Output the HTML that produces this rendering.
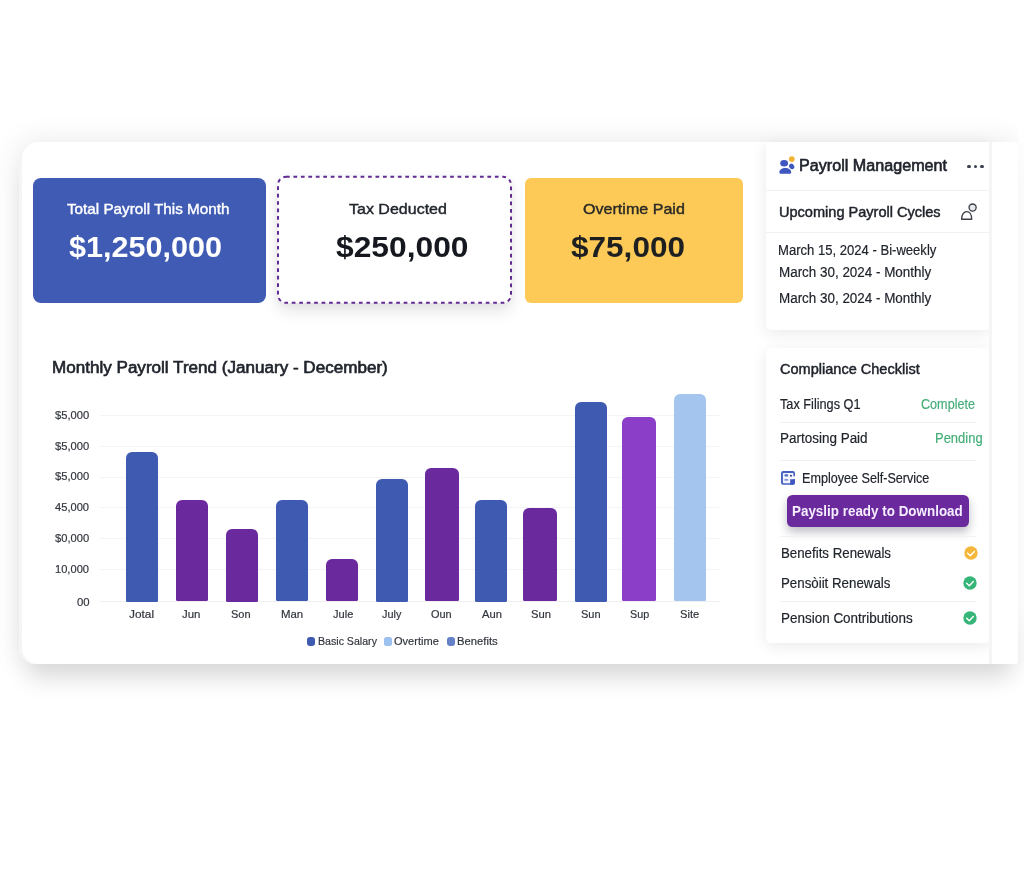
<!DOCTYPE html>
<html lang="en">
<head>
<meta charset="utf-8">
<title>Payroll Management</title>
<style>
*{box-sizing:border-box;margin:0;padding:0}
html,body{width:1024px;height:876px;background:#fff;overflow:hidden}
body{font-family:"Liberation Sans",Arial,sans-serif;color:#20242c;position:relative}
.abs{position:absolute}
#main{left:18.700px;top:142px;width:999.300px;height:521.700px;background:#fff;border-radius:16px 3px 3px 16px;
  box-shadow:0 23px 25px -8px rgba(0,0,0,.11),0 0 30px rgba(0,0,0,.095),inset 3px 0 0 #f5f5f8}
#s1{left:33px;top:178px;width:232.500px;height:124.600px;background:#3f5bb4;border-radius:8px}
#s2{left:278px;top:177px;width:233px;height:126px;background:#fff;border-radius:8px;box-shadow:0 8px 16px rgba(0,0,0,.11),0 0 8px rgba(0,0,0,.05)}
#s3{left:525.400px;top:178px;width:217.800px;height:125.200px;background:#fdc957;border-radius:6px}
.panel{background:#fff;border-radius:5px;box-shadow:0 3px 16px rgba(0,0,0,.085)}
#p1{left:766px;top:142px;width:223.500px;height:187.500px;border-radius:0 0 5px 5px}
#p2{left:766px;top:347.500px;width:223.500px;height:295px}
.hr{position:absolute;height:1px;background:#f1f1f4}
.t{position:absolute;white-space:nowrap;line-height:0;transform-origin:0 0}
.b{font-weight:700}
.m{-webkit-text-stroke:.45px currentColor}
.m2{-webkit-text-stroke:.6px currentColor}
.r{-webkit-text-stroke:.18px currentColor}
.rp{-webkit-text-stroke:.4px currentColor}
.bar{position:absolute;border-radius:6px 6px 1.500px 1.500px}
.blue{background:#3f5bb1}
.pur{background:#6a2a9d}
.pur2{background:#8b3fc9}
.lb{background:#a3c5ee}
.grid{position:absolute;left:100px;width:620px;height:1px;background:#f4f4f6}
.lgd{position:absolute;border-radius:3px;width:8px;height:9px;top:636.500px}
</style>
</head>
<body>
<div id="main" class="abs"></div>
<div class="abs" style="left:1018px;top:120px;width:6px;height:543px;background:linear-gradient(to bottom,rgba(255,255,255,.65) 90%,rgba(255,255,255,0))"></div>

<div id="s1" class="abs"></div>
<div id="s2" class="abs"></div>
<svg class="abs" style="left:274px;top:173px" width="242" height="134" viewBox="0 0 242 134"><rect x="4" y="3.800" width="233" height="126" rx="8" fill="none" stroke="#622a93" stroke-width="2" stroke-dasharray="3.700 3.760"/></svg>
<div id="s3" class="abs"></div>

<div class="grid" style="top:415px"></div>
<div class="grid" style="top:445.500px"></div>
<div class="grid" style="top:476.500px"></div>
<div class="grid" style="top:507px"></div>
<div class="grid" style="top:537.500px"></div>
<div class="grid" style="top:569px"></div>
<div class="grid" style="top:601px;background:#efeff2"></div>

<div class="bar blue" style="left:126px;width:32px;top:452px;height:149.500px"></div>
<div class="bar pur"  style="left:176.300px;width:32px;top:500.400px;height:101px"></div>
<div class="bar pur"  style="left:226px;width:32px;top:529px;height:72.500px"></div>
<div class="bar blue" style="left:276.200px;width:32px;top:500.200px;height:101px"></div>
<div class="bar pur"  style="left:326.300px;width:32px;top:558.800px;height:42.700px"></div>
<div class="bar blue" style="left:376px;width:32px;top:478.600px;height:123px"></div>
<div class="bar pur"  style="left:425.200px;width:33.600px;top:467.800px;height:133.700px"></div>
<div class="bar blue" style="left:475.200px;width:32.300px;top:499.600px;height:102px"></div>
<div class="bar pur"  style="left:523.400px;width:34px;top:507.900px;height:93.600px"></div>
<div class="bar blue" style="left:574.500px;width:32px;top:402px;height:199.500px"></div>
<div class="bar pur2" style="left:622.200px;width:33.800px;top:416.800px;height:184.700px"></div>
<div class="bar lb"   style="left:673.800px;width:32px;top:394.100px;height:207.400px"></div>

<div class="lgd" style="left:307.300px;background:#3f5bb1"></div>
<div class="lgd" style="left:383.800px;background:#9dc1ee;border-radius:2.500px"></div>
<div class="lgd" style="left:447.300px;background:#6480c8"></div>

<div id="p1" class="abs panel"></div>
<div id="p2" class="abs panel"></div>

<div class="abs" style="left:989.400px;top:142px;width:2.400px;height:521.500px;background:#f5f5f6"></div>
<div class="abs" style="left:991.800px;top:142px;width:26.200px;height:521.600px;background:#fff;border-radius:0 3px 3px 0"></div>
<!-- panel 1 -->
<svg class="abs" style="left:778px;top:155px" width="18" height="20" viewBox="0 0 18 20">
  <ellipse cx="6.150" cy="8.350" rx="3.900" ry="3.250" fill="#3f55bf"/>
  <path d="M1.400 17.300c0-2.700 2.400-4.300 5.900-4.300s5.900 1.600 5.900 4.300c0 1-.6 1.500-1.500 1.500h-8.800c-.9 0-1.500-.5-1.500-1.500z" fill="#3f55bf"/>
  <ellipse cx="13.700" cy="11.450" rx="2.350" ry="2.900" transform="rotate(-38 13.700 11.450)" fill="#3f55bf"/>
  <circle cx="13.800" cy="4.100" r="2.900" fill="#f2b335"/>
</svg>
<div class="abs" style="left:967.100px;top:164.600px;width:3.600px;height:3.600px;border-radius:50%;background:#3a3f4c"></div>
<div class="abs" style="left:973.600px;top:164.600px;width:3.600px;height:3.600px;border-radius:50%;background:#3a3f4c"></div>
<div class="abs" style="left:980.100px;top:164.600px;width:3.600px;height:3.600px;border-radius:50%;background:#3a3f4c"></div>
<div class="hr" style="left:766px;width:223px;top:190px"></div>
<svg class="abs" style="left:959px;top:202px" width="20" height="20" viewBox="0 0 20 20" fill="none" stroke="#3c3f47" stroke-width="1.350">
  <circle cx="13.600" cy="5.500" r="3.550" fill="#e6e8ec"/>
  <path d="M2.600 17.250c0-4.600 2.300-7.600 5.200-7.600 2.800 0 4.900 3 4.900 7.600z" fill="#fff" stroke-linejoin="round"/>
</svg>
<div class="hr" style="left:766px;width:223px;top:232px"></div>

<!-- panel 2 -->
<div class="hr" style="left:780px;width:196px;top:421.500px"></div>
<div class="hr" style="left:780px;width:196px;top:459.500px"></div>
<svg class="abs" style="left:780.600px;top:471px" width="14" height="14" viewBox="0 0 14 14">
  <rect x="0" y="0" width="14" height="13.750" rx="2.200" fill="#4560bf"/>
  <rect x="1.900" y="2" width="10.500" height="10.200" rx=".8" fill="#f1f3ff"/>
  <rect x="11.500" y="5.300" width="2.500" height="2.900" fill="#fafaff"/>
  <rect x="3.400" y="3.200" width="3.800" height="2.400" rx="1" fill="#5269c6"/>
  <circle cx="9.950" cy="4.650" r="1" fill="#2c3a80"/>
  <rect x="3.400" y="8.200" width="3.800" height="1.400" rx=".4" fill="#5a70c6"/>
  <path d="M9.200 8.200h4.800v3.350a2.200 2.200 0 0 1-2.200 2.200h-2.600z" fill="#3f58c0"/>
</svg>
<div class="abs" style="left:786.700px;top:495px;width:182.300px;height:31.700px;background:#6a2a9e;border-radius:5.500px;box-shadow:0 5px 10px rgba(20,10,40,.27)"></div>
<div class="hr" style="left:780px;width:196px;top:536px;background:#f2f2f4"></div>
<div class="hr" style="left:780px;width:196px;top:601px"></div>

<svg class="abs" style="left:963.550px;top:546.050px" width="14" height="14" viewBox="0 0 14 14"><circle cx="7" cy="7" r="6.700" fill="#f4b73a"/><path d="M3.6 7.3l2.7 2.4 4-4.2" fill="none" stroke="#fff" stroke-width="1.450" stroke-linecap="round" stroke-linejoin="round"/></svg>
<svg class="abs" style="left:963.400px;top:575.900px" width="14" height="14" viewBox="0 0 14 14"><circle cx="7" cy="7" r="6.700" fill="#35b577"/><path d="M3.6 7.3l2.7 2.4 4-4.2" fill="none" stroke="#fff" stroke-width="1.450" stroke-linecap="round" stroke-linejoin="round"/></svg>
<svg class="abs" style="left:963.400px;top:610.850px" width="14" height="14" viewBox="0 0 14 14"><circle cx="7" cy="7" r="6.700" fill="#35b577"/><path d="M3.6 7.3l2.7 2.4 4-4.2" fill="none" stroke="#fff" stroke-width="1.450" stroke-linecap="round" stroke-linejoin="round"/></svg>

<span id="l1" class="t rp" style="left:67.25px;top:208.56px;font-size:15px;transform:scaleX(1.0162);color:#ffffff">Total Payroll This Month</span>
<span id="v1" class="t b" style="left:68.93px;top:247.43px;font-size:30px;transform:scaleX(1.0189);color:#ffffff">$1,250,000</span>
<span id="l2" class="t rp" style="left:348.50px;top:208.71px;font-size:15px;transform:scaleX(1.0675);color:#20242c">Tax Deducted</span>
<span id="v2" class="t b" style="left:336.13px;top:247.43px;font-size:30px;transform:scaleX(1.0586);color:#15181e">$250,000</span>
<span id="l3" class="t rp" style="left:582.76px;top:208.71px;font-size:15px;transform:scaleX(1.0720);color:#2a2a26">Overtime Paid</span>
<span id="v3" class="t b" style="left:570.86px;top:247.43px;font-size:30px;transform:scaleX(1.0512);color:#1d1f20">$75,000</span>
<span id="title" class="t m2" style="left:51.50px;top:367.65px;font-size:16px;transform:scaleX(1.0666);color:#20242c">Monthly Payroll Trend (January - December)</span>
<span id="y1" class="t r" style="left:55.41px;top:415.07px;font-size:11px;transform:scaleX(1.0153);color:#30343c">$5,000</span>
<span id="y2" class="t r" style="left:55.41px;top:445.81px;font-size:11px;transform:scaleX(1.0153);color:#30343c">$5,000</span>
<span id="y3" class="t r" style="left:55.41px;top:476.45px;font-size:11px;transform:scaleX(1.0153);color:#30343c">$5,000</span>
<span id="y4" class="t r" style="left:55.00px;top:507.33px;font-size:11px;transform:scaleX(1.0117);color:#30343c">45,000</span>
<span id="y5" class="t r" style="left:55.41px;top:538.19px;font-size:11px;transform:scaleX(1.0153);color:#30343c">$0,000</span>
<span id="y6" class="t r" style="left:55.41px;top:569.33px;font-size:11px;transform:scaleX(1.0103);color:#30343c">10,000</span>
<span id="y7" class="t r" style="left:76.82px;top:602.07px;font-size:11px;transform:scaleX(1.0305);color:#30343c">00</span>
<span id="x1" class="t r" style="left:129.09px;top:614.07px;font-size:11px;transform:scaleX(1.0781);color:#30343c">Jotal</span>
<span id="x2" class="t r" style="left:181.86px;top:614.07px;font-size:11px;transform:scaleX(1.0383);color:#30343c">Jun</span>
<span id="x3" class="t r" style="left:231.38px;top:614.07px;font-size:11px;transform:scaleX(0.9979);color:#30343c">Son</span>
<span id="x4" class="t r" style="left:281.36px;top:614.07px;font-size:11px;transform:scaleX(1.0379);color:#30343c">Man</span>
<span id="x5" class="t r" style="left:332.80px;top:614.07px;font-size:11px;transform:scaleX(1.0060);color:#30343c">Jule</span>
<span id="x6" class="t r" style="left:381.96px;top:614.07px;font-size:11px;transform:scaleX(0.9874);color:#30343c">July</span>
<span id="x7" class="t r" style="left:431.03px;top:614.07px;font-size:11px;transform:scaleX(0.9932);color:#30343c">Oun</span>
<span id="x8" class="t r" style="left:481.50px;top:614.07px;font-size:11px;transform:scaleX(1.0179);color:#30343c">Aun</span>
<span id="x9" class="t r" style="left:530.61px;top:614.07px;font-size:11px;transform:scaleX(1.0211);color:#30343c">Sun</span>
<span id="x10" class="t r" style="left:580.87px;top:614.07px;font-size:11px;transform:scaleX(0.9979);color:#30343c">Sun</span>
<span id="x11" class="t r" style="left:629.64px;top:614.07px;font-size:11px;transform:scaleX(0.9772);color:#30343c">Sup</span>
<span id="x12" class="t r" style="left:679.65px;top:614.07px;font-size:11px;transform:scaleX(1.0114);color:#30343c">Site</span>
<span id="lg1" class="t r" style="left:318.04px;top:641.08px;font-size:11.3px;transform:scaleX(0.9386);color:#30343c">Basic Salary</span>
<span id="lg2" class="t r" style="left:394.46px;top:641.08px;font-size:11.3px;transform:scaleX(0.9769);color:#30343c">Overtime</span>
<span id="lg3" class="t r" style="left:457.46px;top:641.08px;font-size:11.3px;transform:scaleX(0.9983);color:#30343c">Benefits</span>
<span id="pm" class="t m2" style="left:799.25px;top:165.53px;font-size:15.8px;transform:scaleX(1.0219);color:#20242c">Payroll Management</span>
<span id="up" class="t m" style="left:779.25px;top:211.73px;font-size:14.3px;transform:scaleX(1.0171);color:#20242c">Upcoming Payroll Cycles</span>
<span id="m1" class="t r" style="left:777.50px;top:250.27px;font-size:14.0px;transform:scaleX(0.9335);color:#20242c">March 15, 2024 - Bi-weekly</span>
<span id="m2" class="t r" style="left:779.25px;top:272.15px;font-size:14.0px;transform:scaleX(0.9587);color:#20242c">March 30, 2024 - Monthly</span>
<span id="m3" class="t r" style="left:779.25px;top:297.83px;font-size:14.0px;transform:scaleX(0.9587);color:#20242c">March 30, 2024 - Monthly</span>
<span id="cc" class="t m" style="left:779.87px;top:368.94px;font-size:14.3px;transform:scaleX(1.0163);color:#20242c">Compliance Checklist</span>
<span id="c1" class="t r" style="left:780.24px;top:404.15px;font-size:14.0px;transform:scaleX(0.9079);color:#20242c">Tax Filings Q1</span>
<span id="c1s" class="t r" style="left:921.15px;top:404.15px;font-size:14.0px;transform:scaleX(0.9008);color:#43ad77">Complete</span>
<span id="c2" class="t r" style="left:780.25px;top:438.41px;font-size:14.0px;transform:scaleX(0.9621);color:#20242c">Partosing Paid</span>
<span id="c2s" class="t r" style="left:935.25px;top:438.41px;font-size:14.0px;transform:scaleX(0.9265);color:#43ad77">Pending</span>
<span id="es" class="t r" style="left:801.50px;top:478.41px;font-size:14.0px;transform:scaleX(0.8994);color:#20242c">Employee Self-Service</span>
<span id="btn" class="t b" style="left:792.00px;top:511.05px;font-size:14.3px;transform:scaleX(0.9385);color:#f6eeff">Payslip ready to Download</span>
<span id="c3" class="t r" style="left:781.25px;top:553.15px;font-size:14.0px;transform:scaleX(0.9484);color:#20242c">Benefits Renewals</span>
<span id="c4" class="t r" style="left:781.25px;top:583.41px;font-size:14.0px;transform:scaleX(0.9498);color:#20242c">Pensòiit Renewals</span>
<span id="c5" class="t r" style="left:781.25px;top:617.83px;font-size:14.0px;transform:scaleX(0.9616);color:#20242c">Pension Contributions</span>
</body>
</html>
